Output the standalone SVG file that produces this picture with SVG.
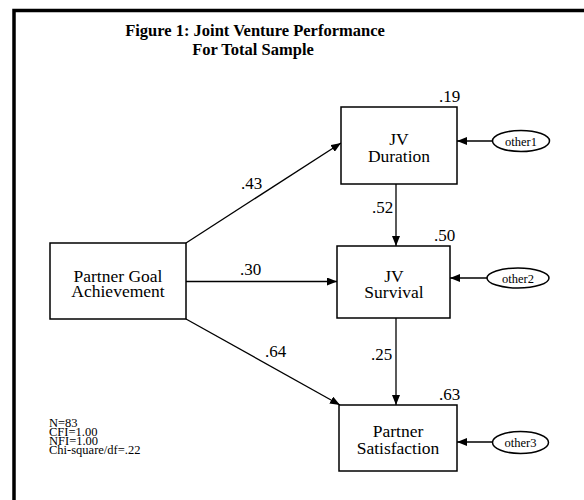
<svg xmlns="http://www.w3.org/2000/svg" width="584" height="500" viewBox="0 0 584 500">
<defs>
<style>
text{font-family:"Liberation Serif","Times New Roman",serif;fill:#000}
.title{font-size:16.5px;font-weight:bold;text-anchor:middle}
.node{font-size:17.5px;text-anchor:middle}
.coef{font-size:17px}
.err{font-size:12.5px;text-anchor:middle}
.note{font-size:12.5px}
.box{fill:#fff;stroke:#000;stroke-width:1.5}
.ell{fill:#fff;stroke:#000;stroke-width:1.5}
.edge{stroke:#000;stroke-width:1.3;fill:none;marker-end:url(#ah)}
</style>
<marker id="ah" viewBox="0 0 10 8" refX="10" refY="4" markerWidth="10" markerHeight="8" markerUnits="userSpaceOnUse" orient="auto">
<path d="M0,0 L10,4 L0,8 Z" fill="#000"/>
</marker>
</defs>
<rect width="584" height="500" fill="#fff"/>
<path d="M14,500 V10.5 H584" fill="none" stroke="#000" stroke-width="3.5"/>
<text class="title" x="255" y="36">Figure 1: Joint Venture Performance</text>
<text class="title" x="253" y="55">For Total Sample</text>
<g id="connectors">
<line class="edge" x1="186" y1="243" x2="341" y2="143"/>
<line class="edge" x1="186" y1="281.5" x2="337" y2="281.5"/>
<line class="edge" x1="186" y1="319" x2="340" y2="405"/>
<line class="edge" x1="396" y1="184" x2="396" y2="246"/>
<line class="edge" x1="396" y1="318" x2="396" y2="405"/>
<line class="edge" x1="492" y1="141" x2="457" y2="141"/>
<line class="edge" x1="487" y1="278" x2="450" y2="278"/>
<line class="edge" x1="492" y1="442" x2="457" y2="442"/>
<text class="coef" x="241" y="189">.43</text>
<text class="coef" x="240" y="275">.30</text>
<text class="coef" x="265" y="357">.64</text>
<text class="coef" x="372" y="213">.52</text>
<text class="coef" x="371" y="360">.25</text>
</g>
<g id="goal">
<rect class="box" x="50" y="243" width="136" height="76"/>
<text class="node" x="118" y="281.5">Partner Goal</text>
<text class="node" x="118" y="297">Achievement</text>
</g>
<g id="duration">
<rect class="box" x="341" y="107" width="116" height="77"/>
<text class="node" x="399" y="145">JV</text>
<text class="node" x="399" y="161.5">Duration</text>
<text class="coef" x="439" y="101.5">.19</text>
</g>
<g id="survival">
<rect class="box" x="337" y="246" width="113" height="72"/>
<text class="node" x="394" y="281.5">JV</text>
<text class="node" x="394" y="298">Survival</text>
<text class="coef" x="434" y="240.5">.50</text>
</g>
<g id="satisfaction">
<rect class="box" x="339" y="405" width="118" height="66"/>
<text class="node" x="398" y="436.5">Partner</text>
<text class="node" x="398" y="454">Satisfaction</text>
<text class="coef" x="439" y="400">.63</text>
</g>
<g id="other1">
<ellipse class="ell" cx="521" cy="141" rx="28.5" ry="10.5"/>
<text class="err" x="521" y="145.5">other1</text>
</g>
<g id="other2">
<ellipse class="ell" cx="518" cy="278" rx="31" ry="10"/>
<text class="err" x="518" y="282.5">other2</text>
</g>
<g id="other3">
<ellipse class="ell" cx="520.5" cy="442.5" rx="28" ry="11"/>
<text class="err" x="520.5" y="447">other3</text>
</g>
<g id="fit">
<text class="note" x="49" y="426.5">N=83</text>
<text class="note" x="49" y="435.5">CFI=1.00</text>
<text class="note" x="49" y="444.5">NFI=1.00</text>
<text class="note" x="49" y="453.5">Chi-square/df=.22</text>
</g>
</svg>
